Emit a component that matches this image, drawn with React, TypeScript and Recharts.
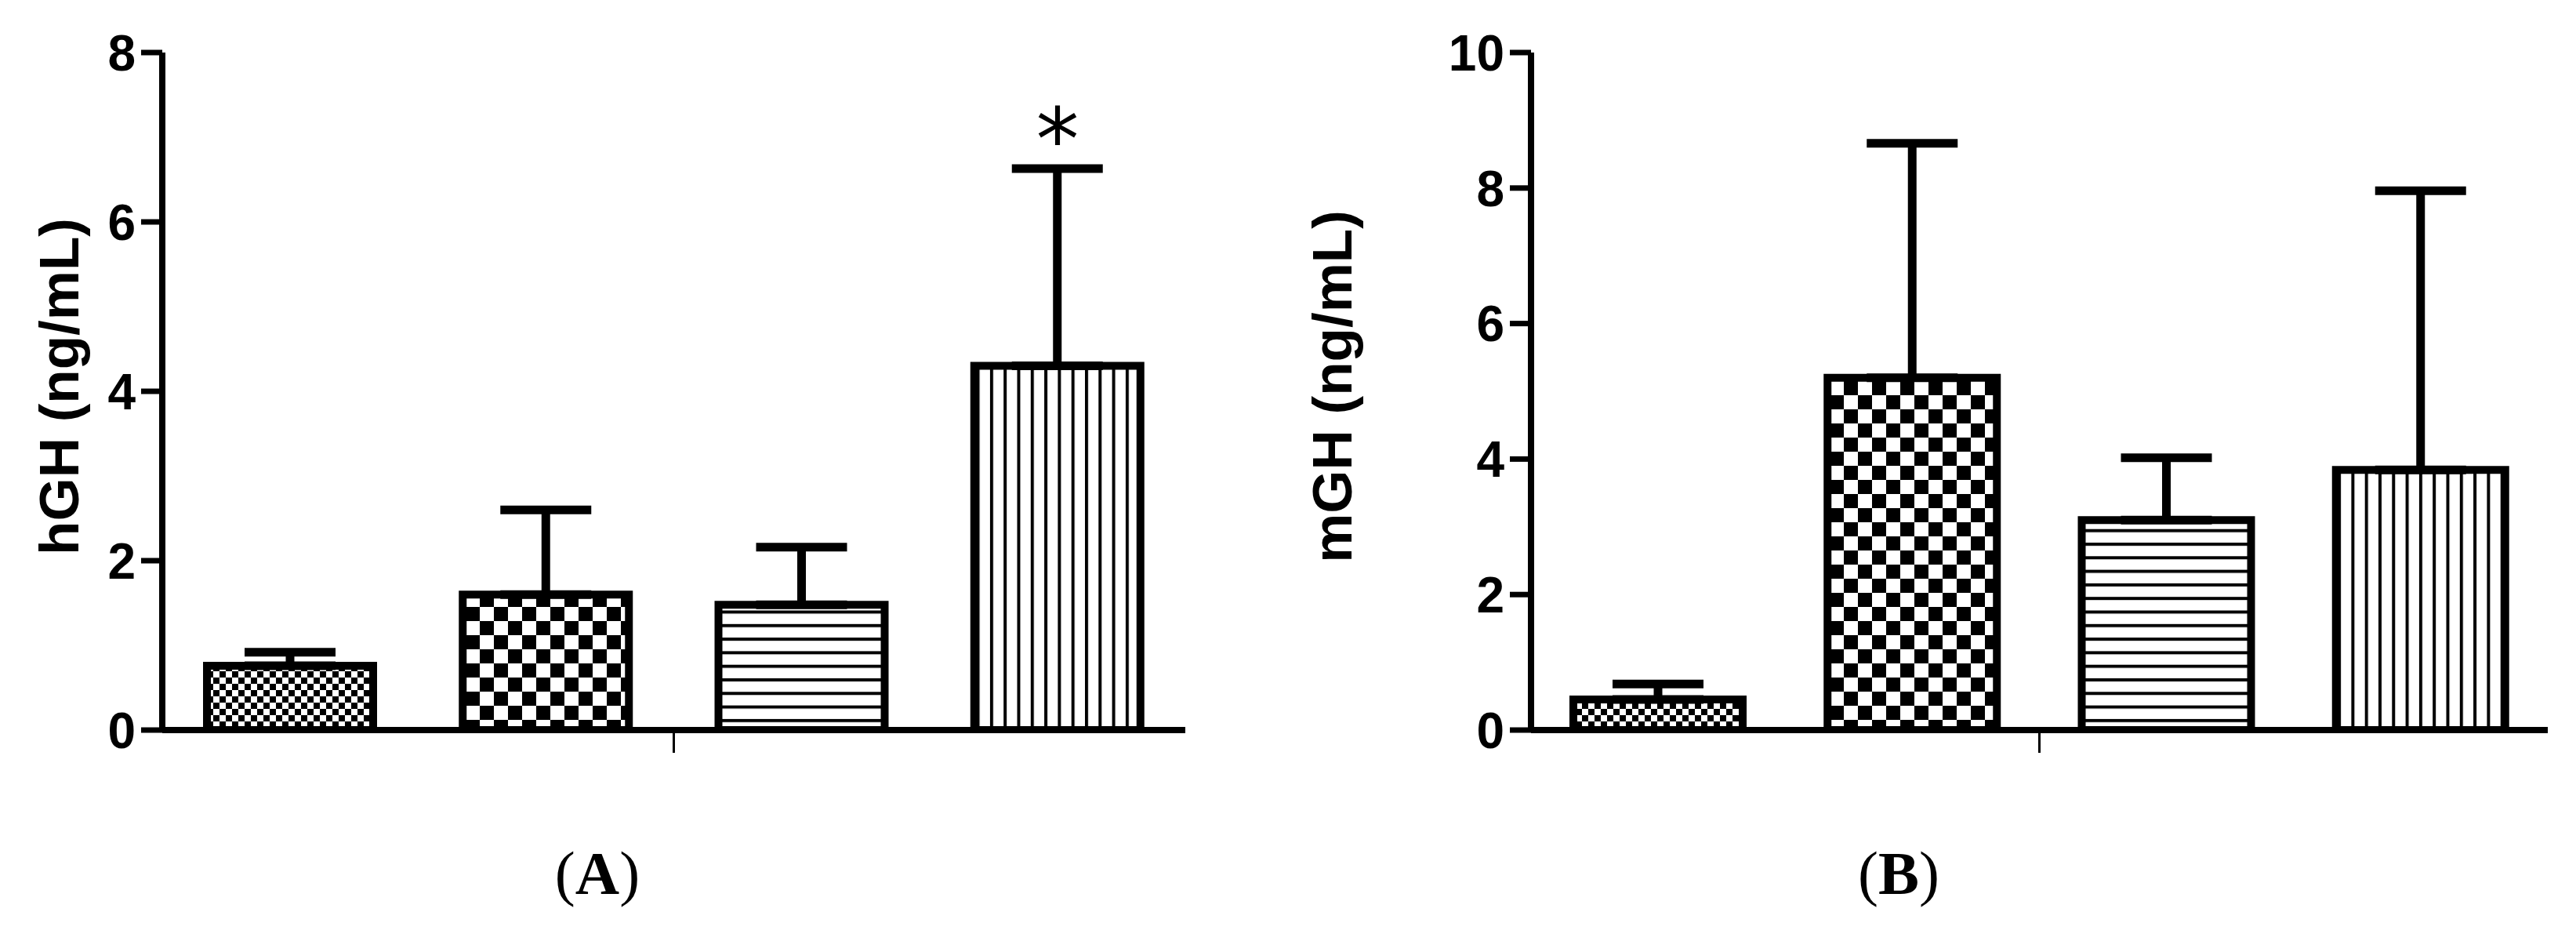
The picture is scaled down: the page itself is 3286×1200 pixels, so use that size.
import React from "react";
import {
  BarChart,
  Bar,
  Cell,
  XAxis,
  YAxis,
  ErrorBar,
  ReferenceDot,
} from "recharts";

// groups (no labels shown on the x axis)
const groups = ["G1", "G2", "G3", "G4"];

// panel A: hGH
const hghMean = [0.76, 1.6, 1.48, 4.3];
const hghSd = [0.16, 1.0, 0.68, 2.33];
const hghSig = ["", "", "", "*"];
const hghTicks = [0, 2, 4, 6, 8];

// panel B: mGH
const mghMean = [0.45, 5.2, 3.1, 3.84];
const mghSd = [0.23, 3.46, 0.92, 4.12];
const mghSig = ["", "", "", ""];
const mghTicks = [0, 2, 4, 6, 8, 10];

const patternIds = ["fineCheck", "bigCheck", "hLines", "vLines"];

const FONT = '"Liberation Sans", Arial, sans-serif';

function Patterns({ prefix }: { prefix: string }) {
  return (
    <defs>
      <pattern id={`${prefix}-fineCheck`} width={16} height={16} patternUnits="userSpaceOnUse">
        <rect width={16} height={16} fill="#fff" />
        <rect x={0} y={0} width={8} height={8} fill="#000" />
        <rect x={8} y={8} width={8} height={8} fill="#000" />
      </pattern>
      <pattern id={`${prefix}-bigCheck`} width={36} height={36} patternUnits="userSpaceOnUse">
        <rect width={36} height={36} fill="#fff" />
        <rect x={0} y={0} width={18} height={18} fill="#000" />
        <rect x={18} y={18} width={18} height={18} fill="#000" />
      </pattern>
      <pattern id={`${prefix}-hLines`} width={17.3} height={17.3} patternUnits="userSpaceOnUse">
        <rect width={17.3} height={17.3} fill="#fff" />
        <rect x={0} y={0} width={17.3} height={4} fill="#000" />
      </pattern>
      <pattern id={`${prefix}-vLines`} width={17.3} height={17.3} patternUnits="userSpaceOnUse">
        <rect width={17.3} height={17.3} fill="#fff" />
        <rect x={0} y={0} width={4} height={17.3} fill="#000" />
      </pattern>
    </defs>
  );
}

// single small tick in the middle of the x axis (between groups 2 and 3)
function MidTick(props: any) {
  const { x, y, index, payload } = props;
  if (index !== 1) return <g />;
  const half = payload && payload.offset ? payload.offset : 0;
  const mx = x + half;
  return <line x1={mx} y1={y} x2={mx} y2={y + 29} stroke="#000" strokeWidth={3} />;
}

function Star(props: any) {
  const { cx, cy, text } = props;
  return (
    <text
      x={cx}
      y={cy + 2}
      textAnchor="middle"
      fontFamily='"DejaVu Sans", sans-serif'
      fontSize={110}
      fill="#000"
    >
      {text}
    </text>
  );
}

interface PanelProps {
  prefix: string;
  mean: number[];
  sd: number[];
  sig: string[];
  ticks: number[];
  label: string;
  left: number;
  width: number;
  axisWidth: number;
  rightMargin: number;
  barSize: number;
  labelX: number;
}

function Panel({
  prefix,
  mean,
  sd,
  sig,
  ticks,
  label,
  left,
  width,
  axisWidth,
  rightMargin,
  barSize,
  labelX,
}: PanelProps) {
  const data = groups.map((g, i) => ({
    group: g,
    mean: mean[i],
    err: [0, sd[i]],
    top: mean[i] + sd[i],
    sig: sig[i],
  }));

  return (
    <div style={{ position: "absolute", left, top: 0 }}>
      <BarChart
        width={width}
        height={1000}
        data={data}
        margin={{ top: 67, right: rightMargin, bottom: 39, left: 0 }}
        barSize={barSize}
      >
        <Patterns prefix={prefix} />
        <XAxis
          dataKey="group"
          height={30}
          axisLine={{ stroke: "#000", strokeWidth: 8 }}
          tickLine={false}
          tickSize={0}
          tickMargin={0}
          interval={0}
          tick={<MidTick />}
        />
        <YAxis
          width={axisWidth}
          domain={[0, ticks[ticks.length - 1]]}
          ticks={ticks}
          allowDataOverflow
          axisLine={{ stroke: "#000", strokeWidth: 8 }}
          tickLine={{ stroke: "#000", strokeWidth: 7 }}
          tickSize={27}
          tickMargin={7}
          tick={{ fill: "#000", fontSize: 64, fontWeight: "bold", fontFamily: FONT }}
          label={{
            content: ({ viewBox }: any) => {
              const cy = viewBox.y + viewBox.height / 2 - 6;
              return (
                <text
                  x={labelX}
                  y={cy}
                  transform={`rotate(-90 ${labelX} ${cy})`}
                  textAnchor="middle"
                  fontFamily={FONT}
                  fontWeight="bold"
                  fontSize={71}
                  fill="#000"
                >
                  {label}
                </text>
              );
            },
          }}
        />
        <Bar
          dataKey="mean"
          stroke="#000"
          strokeWidth={10}
          isAnimationActive={false}
        >
          {data.map((d, i) => (
            <Cell key={d.group} fill={`url(#${prefix}-${patternIds[i]})`} />
          ))}
          <ErrorBar
            dataKey="err"
            direction="y"
            width={58}
            strokeWidth={11}
            stroke="#000"
            isAnimationActive={false}
          />
        </Bar>
        {data
          .filter((d) => d.sig)
          .map((d) => (
            <ReferenceDot
              key={d.group}
              x={d.group}
              y={d.top}
              r={0}
              ifOverflow="visible"
              shape={(p: any) => <Star {...p} text={d.sig} />}
            />
          ))}
      </BarChart>
    </div>
  );
}

export default function App() {
  return (
    <div
      style={{
        position: "absolute",
        left: 0,
        top: 0,
        width: 3286,
        height: 1200,
        background: "#fff",
        overflow: "hidden",
      }}
    >
      <Panel
        prefix="a"
        mean={hghMean}
        sd={hghSd}
        sig={hghSig}
        ticks={hghTicks}
        label="hGH (ng/mL)"
        left={0}
        width={1600}
        axisWidth={207}
        rightMargin={88}
        barSize={212}
        labelX={100}
      />
      <Panel
        prefix="b"
        mean={mghMean}
        sd={mghSd}
        sig={mghSig}
        ticks={mghTicks}
        label="mGH (ng/mL)"
        left={1650}
        width={1636}
        axisWidth={303}
        rightMargin={36}
        barSize={216}
        labelX={74}
      />
      <svg
        width={3286}
        height={1200}
        style={{ position: "absolute", left: 0, top: 0, pointerEvents: "none" }}
      >
        <text
          x={762}
          y={1140}
          textAnchor="middle"
          fontFamily='"Liberation Serif", "Times New Roman", serif'
          fontSize={78}
          fill="#000"
        >
          (<tspan fontWeight="bold">A</tspan>)
        </text>
        <text
          x={2422}
          y={1140}
          textAnchor="middle"
          fontFamily='"Liberation Serif", "Times New Roman", serif'
          fontSize={78}
          fill="#000"
        >
          (<tspan fontWeight="bold">B</tspan>)
        </text>
      </svg>
    </div>
  );
}
